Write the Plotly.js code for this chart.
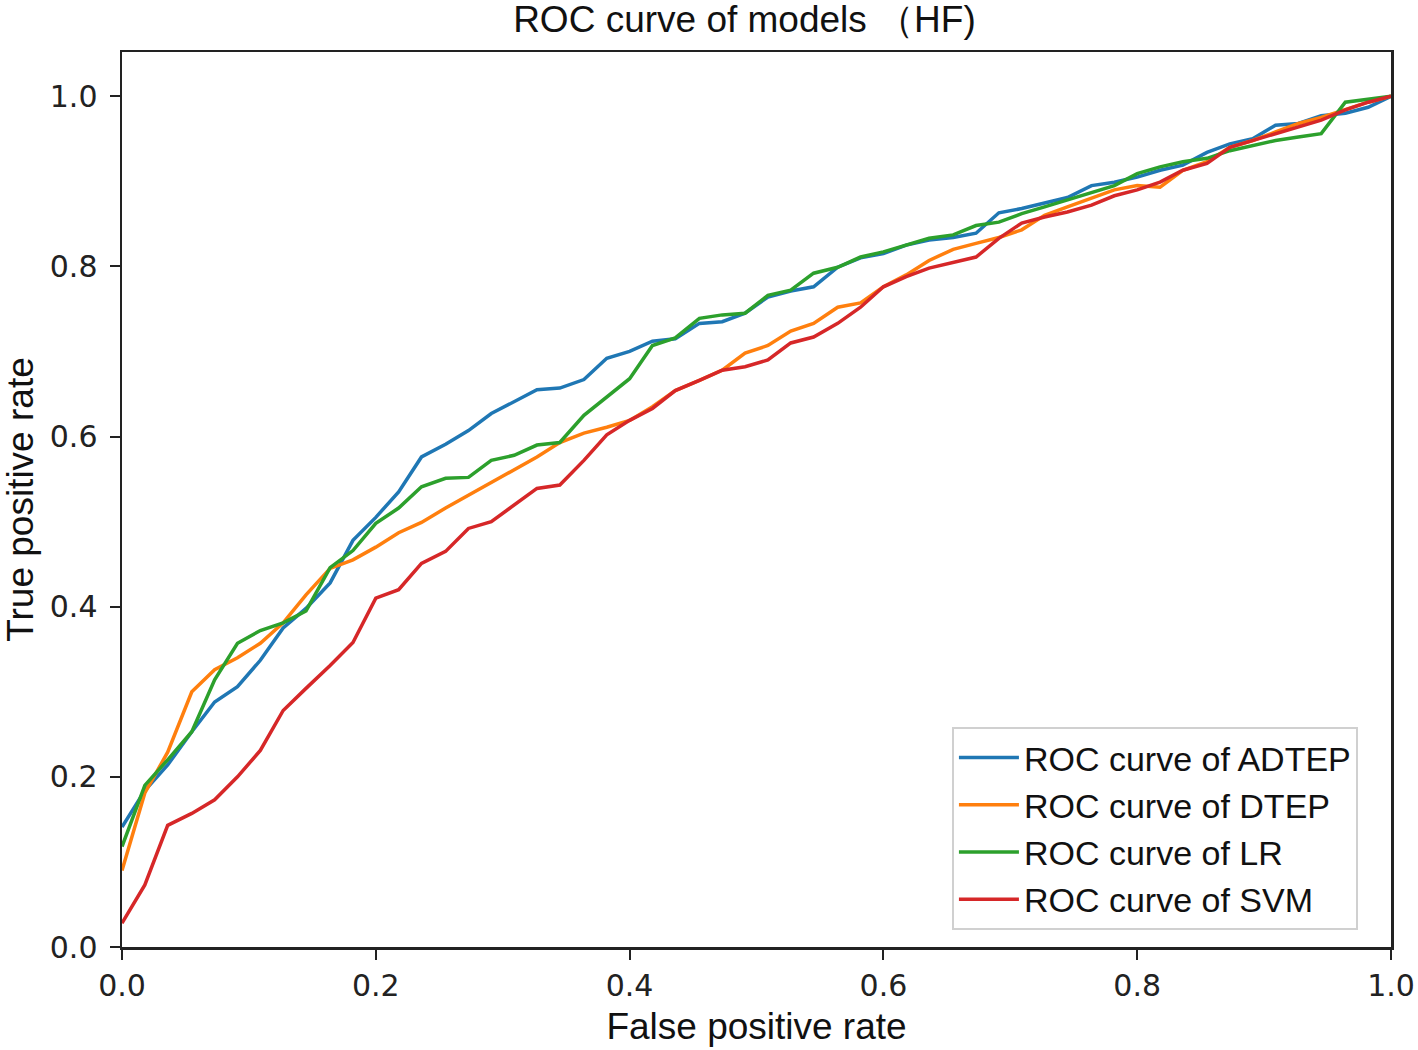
<!DOCTYPE html>
<html>
<head>
<meta charset="utf-8">
<script src="https://cdn.plot.ly/plotly-3.0.1.min.js"></script>
<style>html,body{margin:0;padding:0;background:#fff;}#chart{width:1418px;height:1050px;}</style>
</head>
<body>
<div id="chart"></div>
<script>
const fpr = [0.000,0.018,0.036,0.055,0.073,0.091,0.109,0.127,0.145,0.164,0.182,0.200,0.218,0.236,0.255,0.273,0.291,0.309,0.327,0.345,0.364,0.382,0.400,0.418,0.436,0.455,0.473,0.491,0.509,0.527,0.545,0.564,0.582,0.600,0.618,0.636,0.655,0.673,0.691,0.709,0.727,0.745,0.764,0.782,0.800,0.818,0.836,0.855,0.873,0.891,0.909,0.927,0.945,0.964,0.982,1.000];

const tprADTEP = [0.141,0.184,0.214,0.253,0.288,0.306,0.337,0.375,0.398,0.428,0.478,0.505,0.535,0.576,0.591,0.607,0.627,0.641,0.655,0.657,0.667,0.692,0.700,0.712,0.715,0.733,0.735,0.745,0.764,0.771,0.776,0.799,0.810,0.815,0.825,0.831,0.834,0.839,0.863,0.868,0.875,0.881,0.895,0.899,0.905,0.913,0.919,0.934,0.944,0.950,0.966,0.968,0.977,0.980,0.987,1.000];

const tprDTEP = [0.090,0.181,0.229,0.300,0.326,0.340,0.357,0.381,0.414,0.445,0.455,0.470,0.487,0.499,0.516,0.531,0.546,0.560,0.576,0.593,0.604,0.611,0.619,0.635,0.654,0.666,0.678,0.698,0.707,0.724,0.733,0.752,0.757,0.776,0.790,0.807,0.820,0.827,0.834,0.843,0.860,0.870,0.880,0.890,0.895,0.893,0.913,0.923,0.940,0.948,0.958,0.968,0.975,0.984,0.993,1.000];

const tprLR = [0.118,0.190,0.220,0.253,0.314,0.357,0.372,0.381,0.395,0.446,0.466,0.498,0.516,0.541,0.551,0.552,0.572,0.578,0.590,0.593,0.625,0.646,0.668,0.707,0.716,0.739,0.743,0.745,0.766,0.772,0.792,0.799,0.811,0.817,0.825,0.833,0.837,0.848,0.852,0.862,0.870,0.878,0.886,0.895,0.909,0.917,0.923,0.927,0.936,0.942,0.948,0.952,0.956,0.993,0.997,1.000];

const tprSVM = [0.028,0.073,0.143,0.157,0.173,0.200,0.231,0.278,0.304,0.331,0.358,0.410,0.420,0.451,0.465,0.492,0.500,0.520,0.539,0.543,0.572,0.602,0.619,0.633,0.654,0.666,0.678,0.682,0.690,0.710,0.717,0.733,0.752,0.776,0.788,0.798,0.805,0.811,0.833,0.851,0.858,0.864,0.872,0.883,0.890,0.899,0.913,0.921,0.940,0.948,0.957,0.964,0.972,0.984,0.993,1.000];

const seriesNames = ['ROC curve of ADTEP','ROC curve of DTEP','ROC curve of LR','ROC curve of SVM'];
const seriesColors = ['#1f77b4','#ff7f0e','#2ca02c','#d62728'];
const seriesValues = [tprADTEP, tprDTEP, tprLR, tprSVM];

const tickVals = [0,0.2,0.4,0.6,0.8,1.0];
const tickText = ['0.0','0.2','0.4','0.6','0.8','1.0'];

const traces = seriesValues.map((v,i)=>({
  x: fpr, y: v, type:'scatter', mode:'lines', name: seriesNames[i],
  line:{color: seriesColors[i], width:3.5}
}));

const textFamily = 'Liberation Sans, Arial, sans-serif';
const tickFont = {family:'DejaVu Sans, sans-serif', size:30, color:'#222'};
const layout = {
  width:1418, height:1050,
  paper_bgcolor:'#fff', plot_bgcolor:'#fff',
  margin:{l:122, r:27, t:52, b:103},
  showlegend:true,
  title:{text:'ROC curve of models （HF)', font:{family:textFamily, size:37, color:'#111'}, x:0.525, xanchor:'center', y:0.982, yanchor:'middle', yref:'container'},
  xaxis:{range:[0,1], tickvals:tickVals, ticktext:tickText, showgrid:false, zeroline:false,
    showline:true, mirror:true, linecolor:'#222', linewidth:2.5, ticks:'outside', ticklen:10, tickwidth:2, tickcolor:'#222',
    tickfont:tickFont,
    title:{text:'False positive rate', font:{family:textFamily, size:37, color:'#111'}, standoff:12}},
  yaxis:{range:[0,1.052], tickvals:tickVals, ticktext:tickText, showgrid:false, zeroline:false,
    showline:true, mirror:true, linecolor:'#222', linewidth:2.5, ticks:'outside', ticklen:10, tickwidth:2, tickcolor:'#222',
    tickfont:tickFont, ticklabelstandoff:6,
    title:{text:'True positive rate', font:{family:textFamily, size:37, color:'#111'}, standoff:8}},
  legend:{x:0.654, y:0.019, xanchor:'left', yanchor:'bottom', bgcolor:'rgba(255,255,255,0.9)', bordercolor:'#d0d0d0', borderwidth:2,
    font:{family:textFamily, size:34, color:'#111'}, tracegroupgap:0, itemwidth:60}
};

Plotly.newPlot('chart', traces, layout, {displayModeBar:false, staticPlot:true});
</script>
</body>
</html>
